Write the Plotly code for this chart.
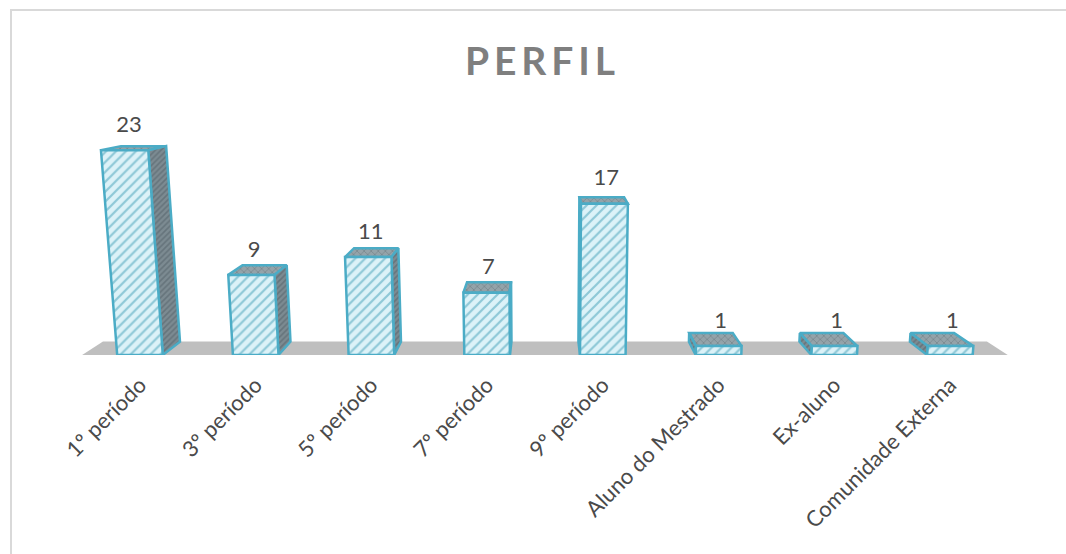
import plotly.graph_objects as go

categories = ["1º período", "3º período", "5º período", "7º período", "9º período",
              "Aluno do Mestrado", "Ex-aluno", "Comunidade Externa"]
values = [23, 9, 11, 7, 17, 1, 1, 1]

PX_PER_CAT, X0_PX, BASE_PX, PX_PER_VAL = 115.7, 140.0, 355.0, 8.9
HALF = 0.197
DEPTH = 0.045
VP_X, VP_Y = 3.5, 33.4
LEAN = 0.00165
BORDER = "#4bacc6"
FRONT_BG = "#dcf2f8"
SIDE_BG = "#7c8b92"
TOP_BG = "#94a3a9"
TEXT = "#4a4a4a"


def front(x, y):
    return x + LEAN * y * (x - VP_X), y


def back(x, y):
    fx, fy = front(x, y)
    return fx + (VP_X - fx) * DEPTH, fy + (VP_Y - fy) * DEPTH


def face(points, bg, fg, size, solidity, shape="/"):
    xs = [p[0] for p in points] + [points[0][0]]
    ys = [p[1] for p in points] + [points[0][1]]
    return go.Scatter(
        x=xs, y=ys, mode="lines", fill="toself", fillcolor=bg,
        fillpattern=dict(shape=shape, bgcolor=bg, fgcolor=fg, size=size, solidity=solidity),
        line=dict(color=BORDER, width=2.5, simplify=False), hoverinfo="skip",
        showlegend=False, cliponaxis=False,
    )


fig = go.Figure()

floor_pts = [front(-0.5, 0), front(7.5, 0), back(7.5, 0), back(-0.5, 0)]
fig.add_trace(go.Scatter(
    x=[p[0] for p in floor_pts], y=[p[1] for p in floor_pts],
    mode="lines", fill="toself", fillcolor="#bfbfbf", line=dict(width=0),
    hoverinfo="skip", showlegend=False, cliponaxis=False,
))

for i, v in enumerate(values):
    l, r = i - HALF, i + HALF
    fig.add_trace(face([front(l, v), front(r, v), back(r, v), back(l, v)],
                       TOP_BG, "#5f6e75", 5, 0.3, "x"))
    e = r if r < VP_X else l
    fig.add_trace(face([front(e, 0), front(e, v), back(e, v), back(e, 0)],
                       SIDE_BG, "#4f5e65", 4, 0.4))
    fig.add_trace(face([front(l, 0), front(r, 0), front(r, v), front(l, v)],
                       FRONT_BG, "#3f9db5", 7, 0.32))

label_pts = [back(i, v) for i, v in enumerate(values)]
label_x = [front(i, 0.85 * v)[0] + 0.017 for i, v in enumerate(values)]
fig.add_trace(go.Scatter(
    x=label_x, y=[p[1] - 0.09 + 0.048 * v for p, v in zip(label_pts, values)], mode="text",
    text=[str(v) for v in values], textposition="top center",
    textfont=dict(family="Lato", size=22, color=TEXT),
    hoverinfo="skip", showlegend=False, cliponaxis=False,
))

W, H = 1066, 554
frame = dict(type="line", xref="paper", yref="paper",
             line=dict(color="#d9d9d9", width=2), layer="below")
top_y = (BASE_PX - 10) / BASE_PX
fig.update_layout(
    width=W, height=H,
    autosize=False,
    margin=dict(l=0, r=0, t=0, b=H - BASE_PX),
    paper_bgcolor="white", plot_bgcolor="white",
    showlegend=False,
    title=dict(text="\u2009P\u2009E\u2009R\u2009F\u2009I\u2009L",
               x=540 / W, xanchor="center", y=1 - 61 / H, yanchor="middle",
               font=dict(family="Lato", size=39, color="#7f7f7f", weight="bold")),
    xaxis=dict(
        range=[-X0_PX / PX_PER_CAT, (W - X0_PX) / PX_PER_CAT],
        tickmode="array", tickvals=list(range(len(categories))), ticktext=categories,
        tickangle=-45, ticks="", showgrid=False, zeroline=False, showline=False,
        ticklabelstandoff=12,
        tickfont=dict(family="Lato", size=22, color=TEXT),
    ),
    yaxis=dict(range=[0, BASE_PX / PX_PER_VAL], visible=False),
    shapes=[
        dict(frame, x0=10 / W, x1=1, y0=top_y, y1=top_y),
        dict(frame, x0=11 / W, x1=11 / W, y0=(BASE_PX - H) / BASE_PX, y1=top_y),
    ],
)
fig.write_html("out.html", config={"displayModeBar": False},
               post_script="document.body.style.margin='0';document.body.style.overflow='hidden';")
